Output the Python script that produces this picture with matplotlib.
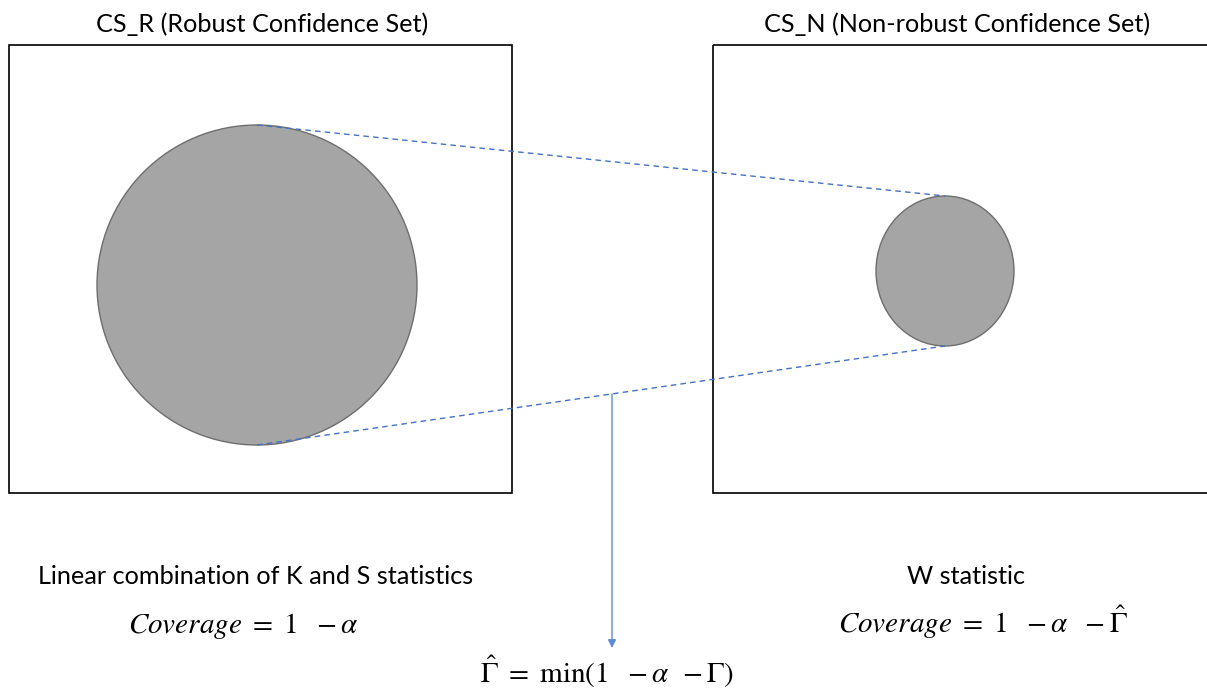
import matplotlib
matplotlib.use("Agg")
import matplotlib.pyplot as plt
from matplotlib.patches import Rectangle, Ellipse

plt.rcParams['font.family'] = ['Lato', 'DejaVu Sans']
plt.rcParams['mathtext.fontset'] = 'stix'

# panel titles and captions
titles = ["CS_R (Robust Confidence Set)", "CS_N (Non-robust Confidence Set)"]
captions = ["Linear combination of K and S statistics", "W statistic"]
coverage = [r"$Coverage\ =\ 1\ \ -\alpha$", r"$Coverage\ =\ 1\ \ -\alpha\ \ -\hat{\Gamma}$"]
gamma_label = r"$\hat{\Gamma}\ =\ \min(1\ \ -\alpha\ \,-\Gamma)$"

# set sizes (pixel coords): centre x, centre y, width, height
set_centres = [(257, 285), (945, 271)]
set_sizes = [(320, 320), (138, 150)]

blue = "#4472c4"

fig = plt.figure(figsize=(12.07, 6.94), dpi=100)
ax = fig.add_axes([0, 0, 1, 1])
ax.set_xlim(0, 1207)
ax.set_ylim(694, 0)
ax.axis("off")

# boxes
ax.add_patch(Rectangle((9, 45), 503, 448, fill=False, ec="black", lw=1.2))
ax.add_patch(Rectangle((713, 45), 520, 448, fill=False, ec="black", lw=1.2, clip_on=True))

# confidence sets
for (cx, cy), (w, h) in zip(set_centres, set_sizes):
    ax.add_patch(Ellipse((cx, cy), w, h, fc="#a5a5a5", ec="#6e6e6e", lw=1.0, zorder=2))

# dashed connecting lines (top and bottom tangents)
(c1x, c1y), (c2x, c2y) = set_centres
h1 = set_sizes[0][1] / 2
h2 = set_sizes[1][1] / 2
ax.plot([c1x, c2x], [c1y - h1, c2y - h2], ls=(0, (4, 3)), color=blue, lw=1.0, zorder=3)
ax.plot([c1x, c2x], [c1y + h1, c2y + h2], ls=(0, (4, 3)), color=blue, lw=1.0, zorder=3)

# arrow down to gamma label
ax.annotate("", xy=(612, 648), xytext=(612, 394),
            arrowprops=dict(arrowstyle="-|>", color="#5b8bd5", lw=1.0,
                            mutation_scale=12, shrinkA=0, shrinkB=0))

# text
ax.text(262, 32, titles[0], ha="center", va="baseline", fontsize=18.2)
ax.text(957, 32, titles[1], ha="center", va="baseline", fontsize=18.2)
ax.text(256, 584, captions[0], ha="center", va="baseline", fontsize=18.2)
ax.text(966, 584, captions[1], ha="center", va="baseline", fontsize=18.2)
ax.text(243, 633, coverage[0], ha="center", va="baseline", fontsize=21)
ax.text(983, 633, coverage[1], ha="center", va="baseline", fontsize=21)
ax.text(607, 683, gamma_label, ha="center", va="baseline", fontsize=21)

fig.savefig("out.png", dpi=100)
